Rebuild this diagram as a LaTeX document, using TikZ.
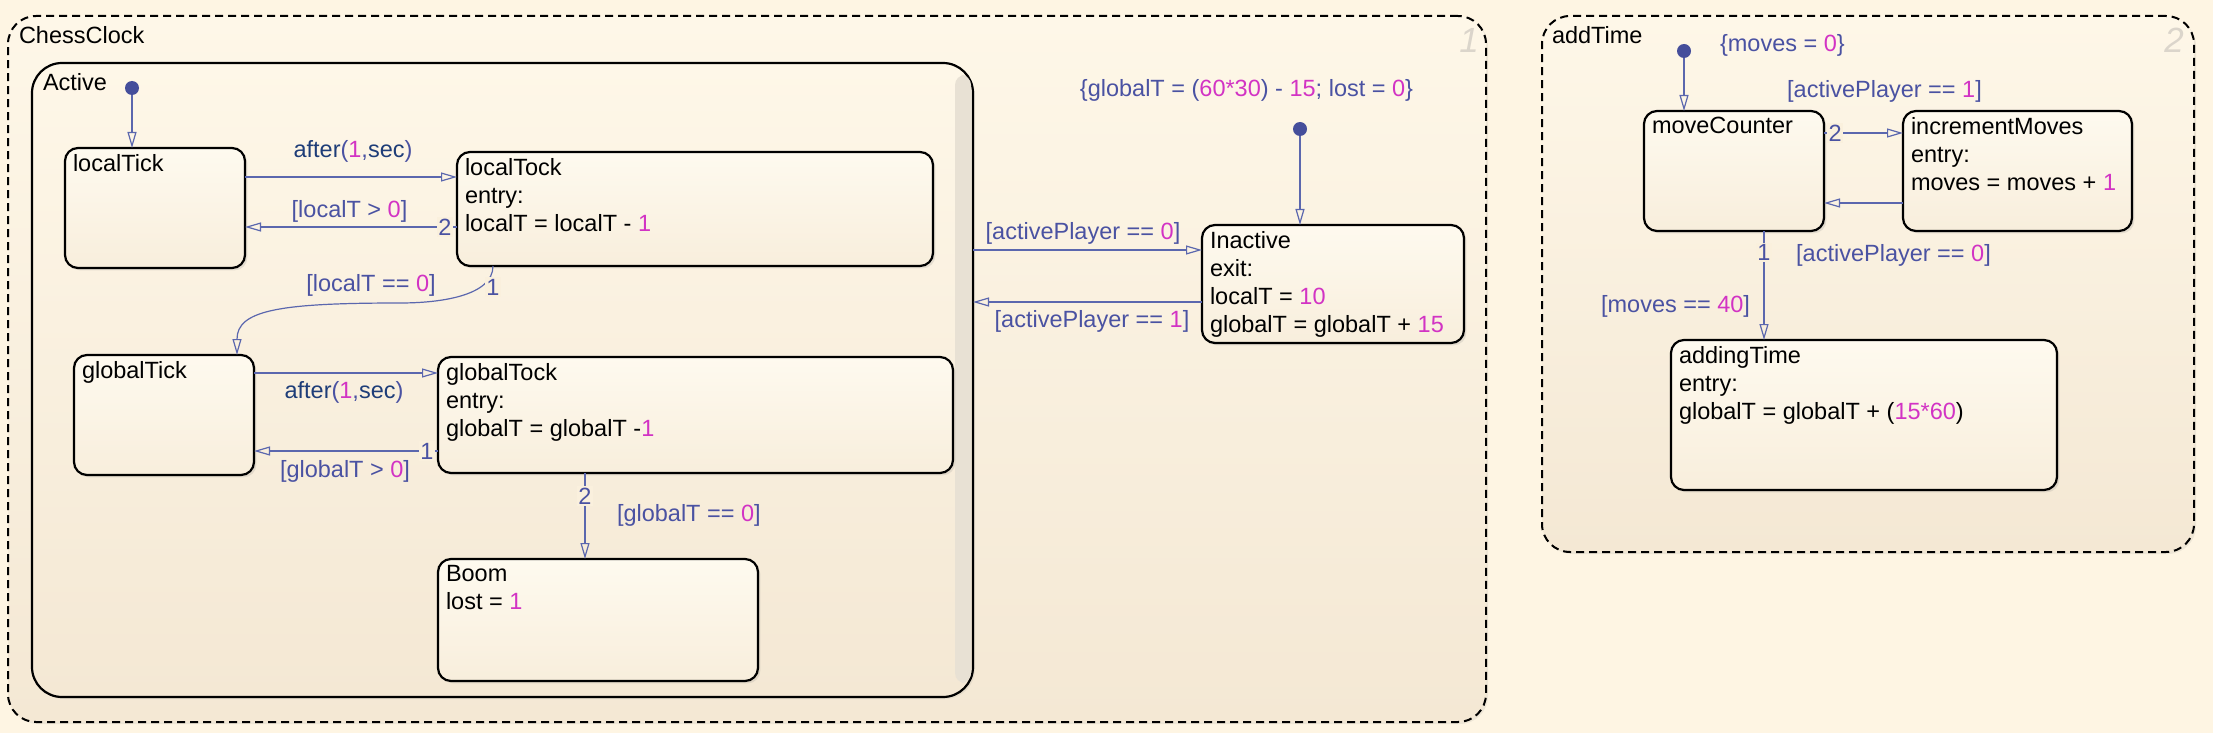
\documentclass[tikz,border=0pt]{standalone}
\usepackage{fontspec}
\setmainfont{Liberation Sans}
\usepackage{xcolor}
\usepackage{tikz}
\usetikzlibrary{arrows.meta,positioning,shadows}
\definecolor{PaperBg}{HTML}{FEF5E3}
\definecolor{ChartTop}{HTML}{FEF7E8}
\definecolor{ChartBot}{HTML}{F4E8D4}
\definecolor{StateTop}{HTML}{FEFAEF}
\definecolor{StateBot}{HTML}{F8EEDC}
\definecolor{ScrollGray}{HTML}{E8E1D4}
\definecolor{TransBlue}{HTML}{5B67AE}
\definecolor{GuardBlue}{HTML}{4A52A2}
\definecolor{KeyBlue}{HTML}{1E3D78}
\definecolor{NumPink}{HTML}{D233C4}
\definecolor{DotBlue}{HTML}{454E9B}
\definecolor{OrderGray}{HTML}{DBD5CB}
\definecolor{OrderFill}{HTML}{FAF0DD}
\newcommand{\nm}[1]{\textcolor{NumPink}{#1}}
\newcommand{\kw}[1]{\textcolor{KeyBlue}{#1}}

\begin{document}
\begin{tikzpicture}[
    x=0.5pt, y=-0.5pt,
    font=\fontsize{11.75}{14}\selectfont,
    every node/.style={outer sep=0pt},
    chart/.style={draw, dash pattern=on 4pt off 2.5pt, line width=1pt, rounded corners=14pt,
      top color=ChartTop, bottom color=ChartBot, anchor=north west, inner sep=0pt,
      drop shadow={shadow xshift=1pt, shadow yshift=-1pt, opacity=0.12}},
    superstate/.style={draw, line width=1.1pt, rounded corners=15pt,
      top color=ChartTop, bottom color=ChartBot, anchor=north west, inner sep=0pt,
      drop shadow={shadow xshift=1pt, shadow yshift=-1pt, opacity=0.12}},
    state/.style={draw, line width=1.1pt, rounded corners=6.5pt,
      top color=StateTop, bottom color=StateBot, anchor=north west, inner sep=0pt,
      drop shadow={shadow xshift=1.2pt, shadow yshift=-1.2pt, opacity=0.18}},
    body/.style={anchor=north west, inner sep=0pt, align=left},
    chartnum/.style={text=OrderGray, inner sep=0pt, font=\fontsize{17.5}{20}\selectfont\itshape},
    initdot/.style={circle, fill=DotBlue, inner sep=0pt, minimum size=7pt},
    trans/.style={draw=TransBlue, line width=0.6pt, -{Triangle[open, length=8pt, width=4.5pt]}},
    guard/.style={text=GuardBlue, inner sep=0pt, anchor=base},
    order/.style={text=GuardBlue, fill=OrderFill, inner sep=0.8pt}
  ]
    \path[use as bounding box, fill=PaperBg] (0,0) rectangle (2213,733);

    \node[chart, minimum width=739pt, minimum height=353pt] (ChessClock) at (8,16) {};
    \node[chart, minimum width=326pt, minimum height=268pt] (addTime) at (1542,16) {};
    \node[body] (ChessClock-name) at ([shift={(11,10)}]ChessClock.north west) {ChessClock};
    \node[body] (addTime-name) at ([shift={(10,10)}]addTime.north west) {addTime};
    \node[chartnum] (ChessClock-num) at ([shift={(-17,24)}]ChessClock.north east) {1};
    \node[chartnum] (addTime-num) at ([shift={(-20,24)}]addTime.north east) {2};

    \node[superstate, minimum width=470.5pt, minimum height=317pt] (Active) at (32,63) {};
    \fill[ScrollGray, rounded corners=5pt] ([shift={(-18,12)}]Active.north east)
      rectangle ([shift={(-2,-14)}]Active.south east);
    \node[body] (Active-name) at ([shift={(11,10)}]Active.north west) {Active};

    \node[state, minimum width=90pt, minimum height=60pt] (localTick) at (65,148) {};
    \node[state, minimum width=238pt, minimum height=57pt] (localTock) at (457,152) {};
    \node[state, minimum width=90pt, minimum height=60pt] (globalTick) at (74,355) {};
    \node[state, minimum width=257.5pt, minimum height=58pt] (globalTock) at (438,357) {};
    \node[state, minimum width=160pt, minimum height=61pt] (Boom) at (438,559) {};
    \node[state, minimum width=131pt, minimum height=59pt] (Inactive) at (1202,225) {};
    \node[state, minimum width=90pt, minimum height=60pt] (moveCounter) at (1644,111) {};
    \node[state, minimum width=114.5pt, minimum height=60pt] (incrementMoves) at (1903,111) {};
    \node[state, minimum width=193pt, minimum height=75pt] (addingTime) at (1671,340) {};

    \node[body] (localTick-txt) at ([shift={(8,6)}]localTick.north west) {localTick};
    \node[body] (localTock-txt) at ([shift={(8,6)}]localTock.north west)
      {localTock\\entry:\\localT = localT - \nm{1}};
    \node[body] (globalTick-txt) at ([shift={(8,6)}]globalTick.north west) {globalTick};
    \node[body] (globalTock-txt) at ([shift={(8,6)}]globalTock.north west)
      {globalTock\\entry:\\globalT = globalT -\nm{1}};
    \node[body] (Boom-txt) at ([shift={(8,6)}]Boom.north west) {Boom\\lost = \nm{1}};
    \node[body] (Inactive-txt) at ([shift={(8,6)}]Inactive.north west)
      {Inactive\\exit:\\localT = \nm{10}\\globalT = globalT + \nm{15}};
    \node[body] (moveCounter-txt) at ([shift={(8,6)}]moveCounter.north west) {moveCounter};
    \node[body] (incrementMoves-txt) at ([shift={(8,6)}]incrementMoves.north west)
      {incrementMoves\\entry:\\moves = moves + \nm{1}};
    \node[body] (addingTime-txt) at ([shift={(8,6)}]addingTime.north west)
      {addingTime\\entry:\\globalT = globalT + (\nm{15*60})};

    \node[initdot] (activeInit) at (132,88) {};
    \node[initdot] (chartInit) at (1300,129) {};
    \node[initdot] (addInit) at (1684,51) {};

    \draw[trans] (activeInit) -- (activeInit |- localTick.north);
    \draw[trans] ([yshift=-14.5pt]localTick.north east)
      -- node[guard, xshift=1pt, yshift=10pt] {\kw{after}(\nm{1},\kw{sec})}
      ([yshift=-12.5pt]localTock.north west);
    \draw[trans] ([yshift=-37.5pt]localTock.north west)
      -- node[order, pos=0.057] {2}
         node[guard, xshift=-0.75pt, yshift=4.5pt] {[localT > \nm{0}]}
      ([yshift=-39.5pt]localTick.north east);
    \draw[trans] ([xshift=18pt]localTock.south west) node[order, yshift=-10.5pt] {1}
      .. controls +(0,30) and +(40,0) .. ++(-93,37)
         node[guard, xshift=-14.5pt, yshift=5.5pt] {[localT == \nm{0}]}
      .. controls +(-120,0) and +(0,-45) .. ([xshift=81.5pt]globalTick.north west);
    \draw[trans] ([yshift=-9pt]globalTick.north east)
      -- node[guard, xshift=-1pt, yshift=-12.5pt] {\kw{after}(\nm{1},\kw{sec})}
      ([yshift=-8pt]globalTock.north west);
    \draw[trans] ([yshift=-47pt]globalTock.north west)
      -- node[order, pos=0.06] {1}
         node[guard, xshift=-0.5pt, yshift=-13pt] {[globalT > \nm{0}]}
      ([yshift=-48pt]globalTick.north east);
    \draw[trans] ([xshift=73.5pt]globalTock.south west)
      -- node[order, pos=0.27] {2}
         node[guard, pos=0.565, anchor=base west, xshift=16pt] {[globalT == \nm{0}]}
      ([xshift=73.5pt]Boom.north west);

    \draw[trans] (chartInit)
      -- node[guard, pos=0, xshift=-26.75pt, yshift=19.5pt]
         {\{globalT = (\nm{60*30}) - \nm{15}; lost = \nm{0}\}}
      (chartInit |- Inactive.north);
    \draw[trans] ([yshift=-93.5pt]Active.north east)
      -- node[guard, xshift=-2.25pt, yshift=5pt] {[activePlayer == \nm{0}]}
      ([yshift=-12.5pt]Inactive.north west);
    \draw[trans] ([yshift=-38.5pt]Inactive.north west)
      -- node[guard, xshift=2.25pt, yshift=-12.5pt] {[activePlayer == \nm{1}]}
      ([yshift=-119.5pt]Active.north east);

    \draw[trans] (addInit)
      -- node[guard, pos=0, anchor=base west, xshift=18pt, yshift=3pt] {\{moves = \nm{0}\}}
      (addInit |- moveCounter.north);
    \draw[trans] ([yshift=-11pt]moveCounter.north east)
      -- node[order, pos=0.14] {2}
         node[guard, xshift=10.5pt, yshift=17.5pt] {[activePlayer == \nm{1}]}
      ([yshift=-11pt]incrementMoves.north west);
    \draw[trans] ([yshift=-46pt]incrementMoves.north west)
      -- node[guard, xshift=15pt, yshift=-29.5pt] {[activePlayer == \nm{0}]}
      ([yshift=-46pt]moveCounter.north east);
    \draw[trans] ([xshift=60pt]moveCounter.south west)
      -- node[order, pos=0.2] {1}
         node[guard, pos=0.75, anchor=base east, xshift=-7pt] {[moves == \nm{40}]}
      ([xshift=46.5pt]addingTime.north west);
  \end{tikzpicture}
\end{document}
